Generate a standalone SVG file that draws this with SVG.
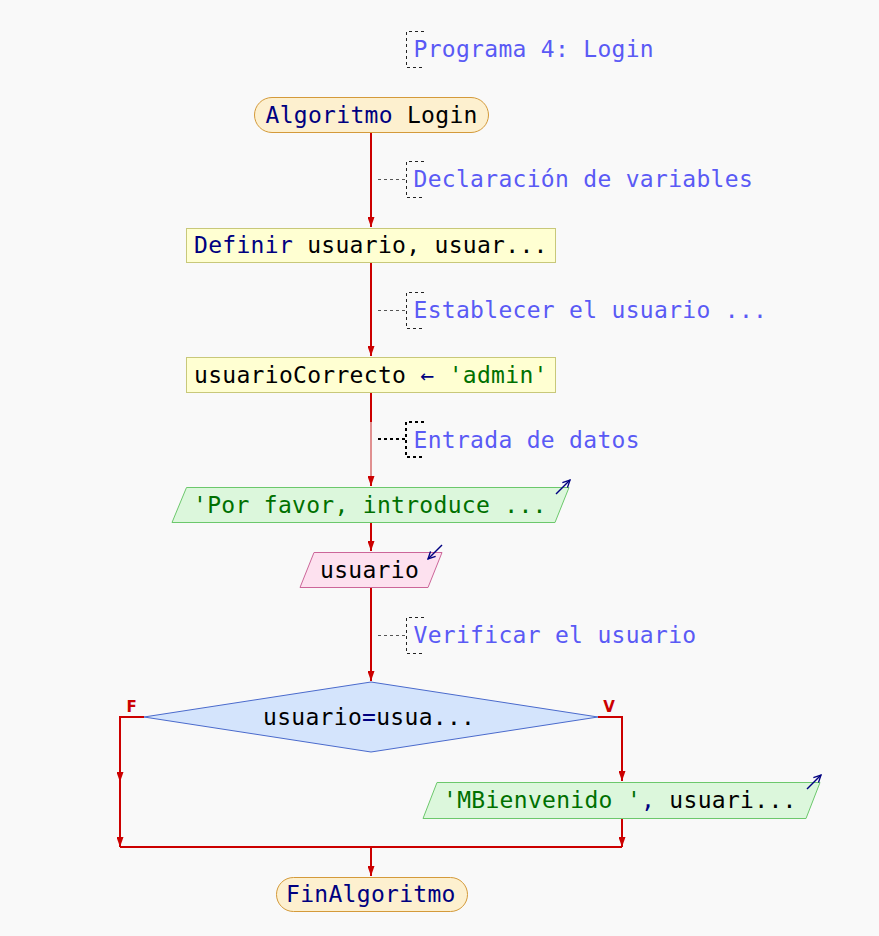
<svg xmlns="http://www.w3.org/2000/svg" width="879" height="936" viewBox="0 0 879 936">
<defs>
<marker id="ah" viewBox="0 0 10 7" refX="10" refY="3.5" markerWidth="10" markerHeight="7" markerUnits="userSpaceOnUse" orient="auto">
<path d="M0,0 L10,3.5 L0,7 Z" fill="#cc0000"/>
</marker>
<marker id="io" viewBox="0 0 10 10" refX="9" refY="5" markerWidth="9" markerHeight="9" markerUnits="userSpaceOnUse" orient="auto">
<path d="M1,1 L9,5 L1,9" fill="none" stroke="#000080" stroke-width="1.5"/>
</marker>
</defs>
<style>
text{font-family:"DejaVu Sans Mono","Liberation Mono",monospace;font-size:23px;letter-spacing:0.3px;fill:#000}
.kw{fill:#000080}
.str{fill:#007000}
.cm{fill:#5a5af5}
.flow{stroke:#cc0000;stroke-width:2;fill:none}
.br{stroke:#222;stroke-width:1;stroke-dasharray:3,3;fill:none}
.dot{stroke:#555;stroke-width:1;stroke-dasharray:3,3;fill:none}
.term{fill:#fdf0cf;stroke:#d49a3a;stroke-width:1}
.proc{fill:#ffffd2;stroke:#c8c87a;stroke-width:1}
.out{fill:#dcf7dc;stroke:#6cc86c;stroke-width:1}
.inp{fill:#fde1ef;stroke:#cc6699;stroke-width:1}
.dec{fill:#d4e4fc;stroke:#4a6acc;stroke-width:1}
.lbl{font-family:"DejaVu Sans","Liberation Sans",sans-serif;font-size:15px;font-weight:bold;fill:#cc0000;letter-spacing:0}
.ico{stroke:#000080;stroke-width:1.5;fill:none}
</style>
<rect width="879" height="936" fill="#f9f9f9"/>
<g id="connectors">
<path class="flow" d="M371,132 V227" marker-end="url(#ah)"/>
<path class="flow" d="M371,262 V356" marker-end="url(#ah)"/>
<path class="flow" d="M371,392 V422"/>
<path d="M371,422 V478" stroke="#e09090" stroke-width="2" fill="none"/>
<path class="flow" d="M371,478 V486" marker-end="url(#ah)"/>
<path class="flow" d="M371,522 V551" marker-end="url(#ah)"/>
<path class="flow" d="M371,587 V681" marker-end="url(#ah)"/>
<path class="flow" d="M144,717 H120 V782" marker-end="url(#ah)"/>
<path class="flow" d="M120,782 V847" marker-end="url(#ah)"/>
<path class="flow" d="M598,717 H622 V781" marker-end="url(#ah)"/>
<path class="flow" d="M622,818 V847" marker-end="url(#ah)"/>
<path class="flow" d="M120,847 H622"/>
<path class="flow" d="M371,847 V876" marker-end="url(#ah)"/>
<text class="lbl" x="131.5" y="712" text-anchor="middle">F</text>
<text class="lbl" x="609" y="712" text-anchor="middle">V</text>
</g>
<g id="comment1">
<path class="br" d="M424,31.5 H406.5 V67.5 H424"/>
<text class="cm" x="413.5" y="57">Programa 4: Login</text>
</g>
<g id="start">
<rect class="term" x="254.5" y="97.5" width="234" height="35" rx="17.5"/>
<text x="265.5" y="122.5"><tspan class="kw">Algoritmo</tspan> Login</text>
</g>
<g id="comment2">
<path class="dot" d="M378,179.5 H406"/>
<path class="br" d="M424,161.5 H406.5 V197.5 H424"/>
<text class="cm" x="413.5" y="187">Declaración de variables</text>
</g>
<g id="define">
<rect class="proc" x="186.5" y="228.5" width="369" height="34"/>
<text x="194" y="253"><tspan class="kw">Definir</tspan> usuario, usuar...</text>
</g>
<g id="comment3">
<path class="dot" d="M378,310.5 H406"/>
<path class="br" d="M424,292.5 H406.5 V328.5 H424"/>
<text class="cm" x="413.5" y="318">Establecer el usuario ...</text>
</g>
<g id="assign">
<rect class="proc" x="186.5" y="357.5" width="369" height="35"/>
<text x="194" y="382.5">usuarioCorrecto <tspan class="kw">←</tspan> <tspan class="str">'admin'</tspan></text>
</g>
<g id="comment4">
<path d="M378,439 H406" stroke="#000" stroke-width="2" stroke-dasharray="3,3" fill="none"/>
<path d="M424,422 H406 V457 H424" stroke="#000" stroke-width="2" stroke-dasharray="3,3" fill="none"/>
<text class="cm" x="413.5" y="447.5">Entrada de datos</text>
</g>
<g id="output1">
<polygon class="out" points="186.5,487.5 569,487.5 555,522.5 172,522.5"/>
<text x="193" y="512.5" class="str">'Por favor, introduce ...</text>
<path class="ico" d="M556,494 L570,480" marker-end="url(#io)"/>
</g>
<g id="input1">
<polygon class="inp" points="314,552.5 442,552.5 428,587.5 300,587.5"/>
<text x="320" y="577.5">usuario</text>
<path class="ico" d="M442,545 L428,559" marker-end="url(#io)"/>
</g>
<g id="comment5">
<path class="dot" d="M378,635.5 H406"/>
<path class="br" d="M424,617.5 H406.5 V653.5 H424"/>
<text class="cm" x="413.5" y="643">Verificar el usuario</text>
</g>
<g id="decision">
<polygon class="dec" points="371,682 598,717 371,752 144,717"/>
<text x="263" y="725">usuario<tspan class="kw">=</tspan>usua...</text>
</g>
<g id="output2">
<polygon class="out" points="437,782.5 820,782.5 806,818.5 423,818.5"/>
<text x="443" y="808"><tspan class="str">'MBienvenido '</tspan><tspan class="kw">,</tspan> usuari...</text>
<path class="ico" d="M807,789 L821,775" marker-end="url(#io)"/>
</g>
<g id="end">
<rect class="term" x="276.5" y="877.5" width="191" height="34" rx="17"/>
<text x="286" y="902" class="kw">FinAlgoritmo</text>
</g>
</svg>
